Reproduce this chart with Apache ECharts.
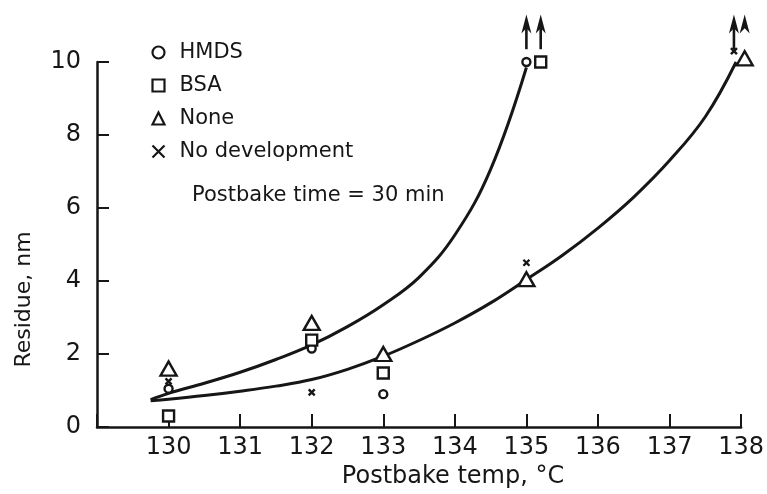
<!DOCTYPE html>
<html>
<head>
<meta charset="utf-8">
<script src="https://cdn.jsdelivr.net/npm/echarts@6/dist/echarts.min.js"></script>
<style>html,body{margin:0;padding:0;background:#fff}#c{width:767px;height:494px}</style>
</head>
<body>
<div id="c"></div>
<script>
// ---- data ----
const xTicks = [130, 131, 132, 133, 134, 135, 136, 137, 138];
const yTicks = [0, 2, 4, 6, 8, 10];
const hmds  = [[130, 1.05], [132, 2.15], [133, 0.9], [135, 10.0]];
const bsa   = [[130, 0.3], [132, 2.38], [133, 1.48], [135.2, 10.0]];
const none  = [[130, 1.6], [132, 2.85], [133, 2.0], [135, 4.05], [138.05, 10.1]];
const noDev = [[130, 1.25], [132, 0.95], [135, 4.5], [137.9, 10.3]];
const upperCurve = [[129.75, 0.75], [130, 0.92], [130.5, 1.2], [131, 1.5], [131.5, 1.85], [132, 2.25], [132.5, 2.75],
  [133, 3.35], [133.5, 4.1], [134, 5.26], [134.5, 7.06], [135, 9.85]];
const lowerCurve = [[129.75, 0.72], [130, 0.76], [130.5, 0.86], [131, 0.98], [131.5, 1.12], [132, 1.3], [132.5, 1.58],
  [133, 1.94], [133.5, 2.37], [134, 2.85], [134.5, 3.4], [135, 4.04], [135.5, 4.7], [136, 5.45], [136.5, 6.3],
  [137, 7.3], [137.5, 8.5], [137.93, 10.0]];
const arrowX = [135.0, 135.2, 137.9, 138.05];
const arrowBase = 10.35;
const arrowTip = 11.3;

const INK = '#161616';
const FONT = 'DejaVu Sans';
const crossPath = 'path://M0,0L10,10M10,0L0,10';
const arrowHead = 'path://M5,0L10,18L5,13L0,18Z';

const markStyle = { color: '#fff', borderColor: INK, borderWidth: 2.4, opacity: 1 };

const series = [
  { name: 'curveUpper', type: 'line', data: upperCurve, smooth: 0.4, showSymbol: false, clip: false,
    lineStyle: { color: INK, width: 3 }, z: 1, silent: true },
  { name: 'curveLower', type: 'line', data: lowerCurve, smooth: 0.4, showSymbol: false, clip: false,
    lineStyle: { color: INK, width: 3 }, z: 1, silent: true },
  { name: 'HMDS', type: 'scatter', data: hmds, symbol: 'circle', symbolSize: 8, itemStyle: markStyle, clip: false, z: 3 },
  { name: 'BSA', type: 'scatter', data: bsa, symbol: 'rect', symbolSize: 11, itemStyle: markStyle, clip: false, z: 3 },
  { name: 'None', type: 'scatter', data: none, symbol: 'triangle', symbolSize: [16, 14], itemStyle: markStyle, clip: false, z: 3 },
  { name: 'No development', type: 'scatter', data: noDev, symbol: crossPath, symbolSize: 6,
    itemStyle: { color: 'none', borderColor: INK, borderWidth: 2.4, opacity: 1 }, clip: false, z: 4 }
];
arrowX.forEach(function (x) {
  series.push({ type: 'line', data: [[x, arrowBase], [x, arrowTip - 0.3]], showSymbol: false, clip: false,
    lineStyle: { color: INK, width: 2.6 }, silent: true, z: 2 });
});
series.push({ type: 'scatter', data: arrowX.map(function (x) { return [x, arrowTip]; }), symbol: arrowHead,
  symbolSize: [10, 19], symbolOffset: [0, '50%'], itemStyle: { color: INK, opacity: 1 }, clip: false, silent: true, z: 2 });

const chart = echarts.init(document.getElementById('c'), null, { renderer: 'canvas' });
chart.setOption({
  backgroundColor: '#fff',
  animation: false,
  title: {
    text: 'Postbake time = 30 min', left: 187, top: 180,
    textStyle: { fontFamily: FONT, fontSize: 21, fontWeight: 'normal', color: INK }
  },
  legend: {
    data: [
      { name: 'HMDS', icon: 'circle' },
      { name: 'BSA', icon: 'rect' },
      { name: 'None', icon: 'triangle' },
      { name: 'No development', icon: crossPath }
    ],
    orient: 'vertical', left: 145, top: 37, itemWidth: 12, itemHeight: 12, itemGap: 12,
    itemStyle: { borderWidth: 2.2, opacity: 1 },
    textStyle: { fontFamily: FONT, fontSize: 21, color: INK, padding: [0, 0, 0, 10] },
    selectedMode: false
  },
  grid: { left: 97, right: 22, top: 62, bottom: 66 },
  xAxis: {
    type: 'value', min: 129, max: 138, interval: 1,
    name: 'Postbake temp, °C', nameLocation: 'middle', nameGap: 38,
    nameTextStyle: { fontFamily: FONT, fontSize: 24, color: INK, padding: [0, 0, 0, 68] },
    axisLine: { show: true, lineStyle: { color: INK, width: 2.5 } },
    axisTick: { show: true, inside: true, length: 13, lineStyle: { color: INK, width: 2 } },
    axisLabel: { fontFamily: FONT, fontSize: 24, color: INK, margin: 9,
      formatter: function (v) { return xTicks.indexOf(v) >= 0 ? String(v) : ''; } },
    splitLine: { show: false }
  },
  yAxis: {
    type: 'value', min: 0, max: 10, interval: 2,
    name: 'Residue, nm', nameLocation: 'middle', nameGap: 62, nameRotate: 90,
    nameTextStyle: { fontFamily: FONT, fontSize: 22, color: INK, padding: [0, 110, 0, 0] },
    axisLine: { show: true, lineStyle: { color: INK, width: 2.5 } },
    axisTick: { show: true, inside: true, length: 12, lineStyle: { color: INK, width: 2 } },
    axisLabel: { fontFamily: FONT, fontSize: 24, color: INK, margin: 16,
      formatter: function (v) { return yTicks.indexOf(v) >= 0 ? String(v) : ''; } },
    splitLine: { show: false }
  },
  series: series
});
</script>
</body>
</html>
